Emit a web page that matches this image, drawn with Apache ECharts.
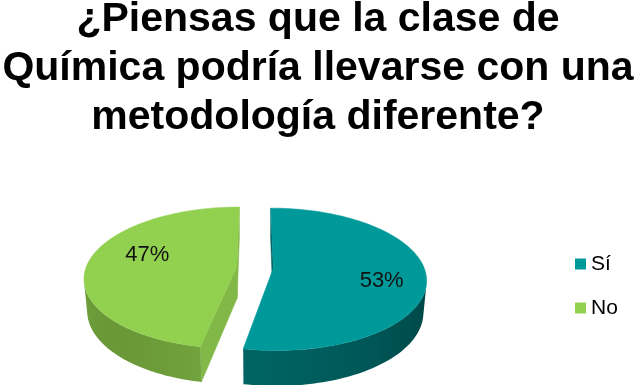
<!DOCTYPE html>
<html><head><meta charset="utf-8">
<script src="https://cdn.jsdelivr.net/npm/echarts@6/dist/echarts.min.js"></script>
<style>html,body{margin:0;padding:0;background:#fff}#c{width:636px;height:385px}</style>
</head><body><div id="c"></div>
<script>
const titleLines = ['¿Piensas que la clase de', 'Química podría llevarse con una', 'metodología diferente?'];
const categories = ['Sí', 'No'];
const values = [53, 47];

const topColors = ['#009999', '#92d050'];
const wallLit = ['#006868', '#82b847'];
const wallDark = ['#003a3a', '#6a9838'];
const FONT = '"Liberation Sans", Arial, sans-serif';

const CX = 255, CY = 299, RX = 148, RZ = 155, H = 35, EXPLODE = 18, D = 900;
const PHI = 28 * Math.PI / 180, sinP = Math.sin(PHI), cosP = Math.cos(PHI);
function project(X, Y, Z) {
  const v = Z * sinP - Y * cosP;
  const d = Z * cosP + Y * sinP;
  const s = D / (D - d);
  return [CX + X * s, CY + v * s];
}
function hex(c) { return [1, 3, 5].map(i => parseInt(c.substr(i, 2), 16)); }
function mix(c1, c2, t) {
  const a = hex(c1), b = hex(c2);
  return 'rgb(' + a.map((v, i) => Math.round(v + (b[i] - v) * t)).join(',') + ')';
}
function area(p) {
  let s = 0;
  for (let i = 0; i < p.length; i++) { const q = p[(i + 1) % p.length]; s += p[i][0] * q[1] - q[0] * p[i][1]; }
  return s / 2;
}
const clamp = x => Math.max(0, Math.min(1, x));
const total = values.reduce((a, b) => a + b, 0);
const L = [-Math.SQRT1_2, Math.SQRT1_2];
// shading amount (0 = dark, 1 = lit) from face normal
const shading = [
  (nx, nz) => clamp(0.5 + 0.5 * (nx * L[0] + nz * L[1])),
  (nx, nz) => clamp(2 * (1 - (nx * L[0] + nz * L[1])))
];

function makeRender(i) {
  return function (params, api) {
    const v = api.value(0);
    let before = 0; for (let k = 0; k < i; k++) before += values[k];
    const a0 = before / total * 2 * Math.PI, a1 = (before + v) / total * 2 * Math.PI;
    const mid = (a0 + a1) / 2;
    const ox = EXPLODE * Math.sin(mid), oz = -EXPLODE * Math.cos(mid);
    const rim = (t, Y, f) => project(ox + (f || 1) * RX * Math.sin(t), Y, oz - (f || 1) * RZ * Math.cos(t));
    const ctr = (Y) => project(ox, Y, oz);
    const wallCol = (nx, nz) => mix(wallDark[i], wallLit[i], shading[i](nx, nz));
    const children = [];
    // cut faces
    const sf = [ctr(H), rim(a0, H), rim(a0, 0), ctr(0)];
    if (area(sf) < 0) { const c = wallCol(-Math.cos(a0), -Math.sin(a0)); children.push({ type: 'polygon', shape: { points: sf }, style: { fill: c, stroke: c, lineWidth: 0.5 } }); }
    const ef = [rim(a1, H), ctr(H), ctr(0), rim(a1, 0)];
    if (area(ef) < 0) { const c = wallCol(Math.cos(a1), Math.sin(a1)); children.push({ type: 'polygon', shape: { points: ef }, style: { fill: c, stroke: c, lineWidth: 0.5 } }); }
    // outer wall: visible angular range as one polygon with a horizontal gradient
    const N = Math.ceil((a1 - a0) / (2 * Math.PI) * 240);
    const vis = [];
    for (let k = 0; k < N; k++) {
      const t1 = a0 + (a1 - a0) * k / N, t2 = a0 + (a1 - a0) * (k + 1) / N;
      if (area([rim(t1, H), rim(t2, H), rim(t2, 0), rim(t1, 0)]) < 0) vis.push(t1, t2);
    }
    if (vis.length) {
      const ts = Math.min(...vis), te = Math.max(...vis);
      const M = 60, topPts = [], botPts = [], samples = [];
      for (let k = 0; k <= M; k++) {
        const t = ts + (te - ts) * k / M;
        const p = rim(t, H);
        topPts.push(p); botPts.push(rim(t, 0));
        samples.push([p[0], wallCol(Math.sin(t), -Math.cos(t))]);
      }
      const xs = samples.map(s => s[0]);
      const minX = Math.min(...xs), maxX = Math.max(...xs);
      const stops = samples.map(s => ({ offset: (s[0] - minX) / (maxX - minX || 1), color: s[1] }))
        .sort((a, b) => a.offset - b.offset);
      const grad = new echarts.graphic.LinearGradient(minX, 0, maxX, 0, stops, true);
      children.push({ type: 'polygon', shape: { points: topPts.concat(botPts.reverse()) }, style: { fill: grad } });
    }
    // top face
    const top = [ctr(H)];
    for (let k = 0; k <= N; k++) top.push(rim(a0 + (a1 - a0) * k / N, H));
    children.push({ type: 'polygon', shape: { points: top }, style: { fill: topColors[i], stroke: topColors[i], lineWidth: 0.5 } });
    // label
    const lp = rim(mid + 10 * Math.PI / 180, H, 0.68);
    children.push({ type: 'text', x: lp[0] + 6, y: lp[1], style: { text: Math.round(v / total * 100) + '%', fill: '#111', fontSize: 22, fontFamily: FONT, textAlign: 'center', textVerticalAlign: 'middle' } });
    return { type: 'group', children: children };
  };
}

const chart = echarts.init(document.getElementById('c'), null, { renderer: 'canvas' });
chart.setOption({
  animation: false,
  color: topColors,
  title: {
    text: titleLines.join('\n'), left: 'center', top: -5, padding: 0,
    textStyle: { fontSize: 41, fontWeight: 'bold', lineHeight: 49, color: '#000', fontFamily: FONT }
  },
  legend: {
    orient: 'vertical', left: 575, top: 253, padding: 0, icon: 'rect', itemWidth: 11, itemHeight: 11, itemGap: 22,
    data: categories, selectedMode: false,
    textStyle: { fontSize: 21, lineHeight: 22, color: '#000', fontFamily: FONT }
  },
  series: categories.map((name, i) => ({
    type: 'custom', name: name, coordinateSystem: 'none', silent: true,
    itemStyle: { color: topColors[i] },
    renderItem: makeRender(i),
    data: [[values[i]]]
  }))
});
</script></body></html>
